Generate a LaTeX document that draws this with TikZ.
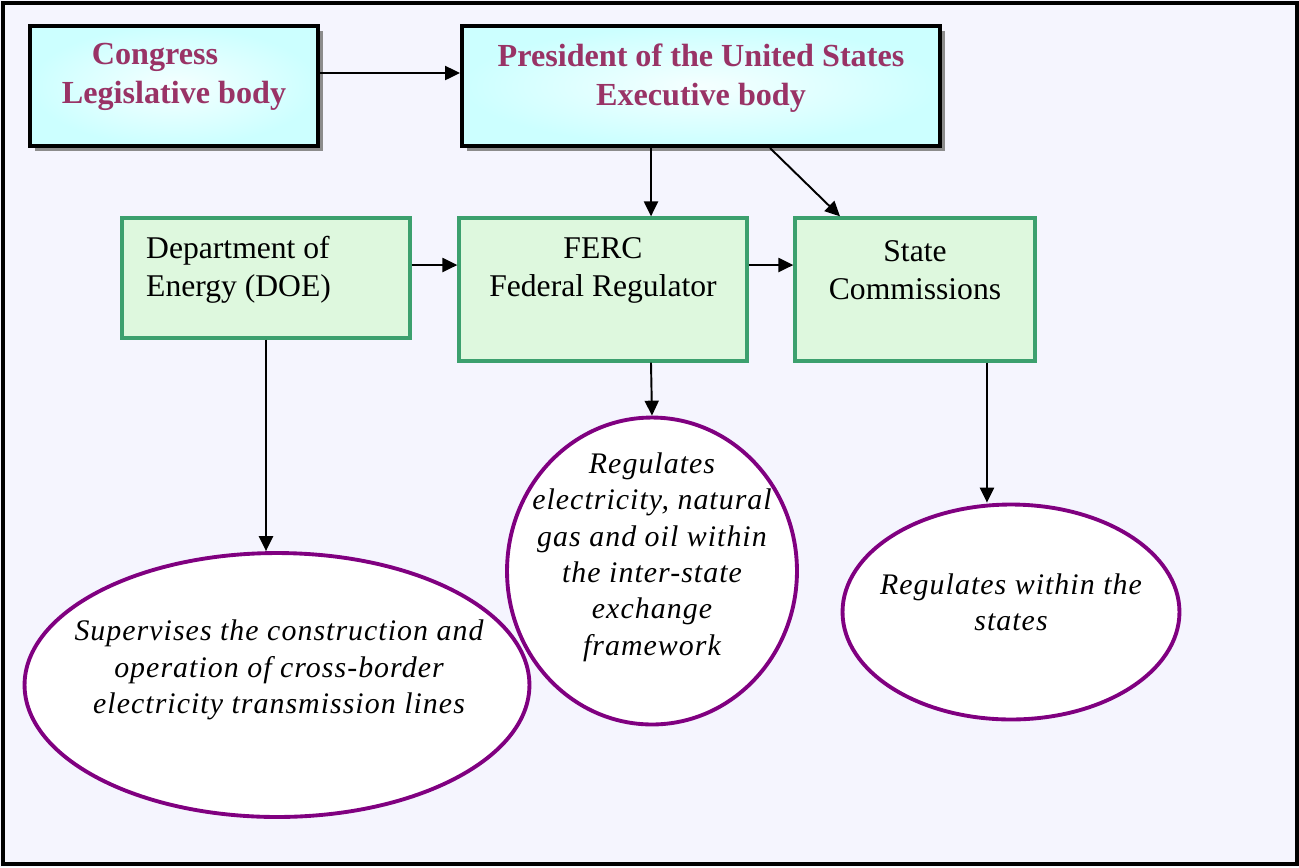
\documentclass[tikz,border=0pt]{standalone}
\usepackage{fontspec}
\setmainfont{Liberation Serif}
\newfontfamily\notefont{Liberation Serif}[LetterSpace=3.5]
\usetikzlibrary{shapes.geometric,shadows,arrows.meta}

\definecolor{titlered}{RGB}{153,51,102}
\definecolor{boxcyan}{RGB}{204,255,255}
\definecolor{boxcyanlight}{RGB}{245,255,255}
\definecolor{boxgreen}{RGB}{222,248,222}
\definecolor{linegreen}{RGB}{60,160,110}
\definecolor{notepurple}{RGB}{128,0,128}
\definecolor{paper}{RGB}{245,245,254}

\tikzset{
  topbox/.style={draw=black, line width=2.3pt, shading=radial,
    inner color=boxcyanlight, outer color=boxcyan, minimum height=2.4cm,
    drop shadow={shadow xshift=0.1cm, shadow yshift=-0.1cm, fill=black!45, opacity=1}},
  midbox/.style={draw=linegreen, line width=1.9pt, fill=boxgreen},
  note/.style={ellipse, draw=notepurple, line width=2.2pt, fill=white, inner sep=0pt},
  titletext/.style={text=titlered, font=\fontsize{18.3}{22.6}\selectfont\bfseries, align=center},
  boxtext/.style={font=\fontsize{18}{21.6}\selectfont, align=center},
  notetext/.style={font=\notefont\fontsize{17}{20.7}\selectfont\itshape, align=center},
  arr/.style={-{Triangle[length=8.5pt,width=8pt]}, line width=1.1pt}
}

\begin{document}
\begin{tikzpicture}[x=0.02cm, y=-0.02cm]
\useasboundingbox (0,0) rectangle (1299,867);
\fill[paper] (0,0) rectangle (1299,867);
\draw[line width=2.5pt] (3,3) rectangle (1297,864);

% executive and legislative
\node[topbox, minimum width=5.76cm] (congress) at (174,86) {};
\node[topbox, minimum width=9.56cm] (president) at (701,86) {};
\node[titletext] (congress-t) at (174,77) {Congress\hspace*{0.76cm}\\Legislative body};
\node[titletext] (president-t) at (701,78) {President of the United States\\Executive body};

% agencies
\node[midbox, minimum width=5.76cm, minimum height=2.4cm] (doe) at (266,278) {};
\node[midbox, minimum width=5.76cm, minimum height=2.86cm] (ferc) at (603,289.5) {};
\node[midbox, minimum width=4.8cm, minimum height=2.86cm] (state) at (915,289.5) {};
\node[boxtext, align=left, anchor=west] (doe-t) at (140,270) {Department of\\Energy (DOE)};
\node[boxtext] (ferc-t) at (603,270) {FERC\\Federal Regulator};
\node[boxtext] (state-t) at (915,270) {State\\Commissions};

% roles
\node[note, minimum width=10.1cm, minimum height=5.28cm] (doe-note) at (277,685) {};
\node[note, minimum width=5.8cm, minimum height=6.14cm] (ferc-note) at (652,571) {};
\node[note, minimum width=6.74cm, minimum height=4.3cm] (state-note) at (1011,612) {};
\node[notetext] (doe-note-t) at (279,670) {Supervises the construction and\\operation of cross-border\\electricity transmission lines};
\node[notetext] (ferc-note-t) at (652,557) {Regulates\\electricity, natural\\gas and oil within\\the inter-state\\exchange\\framework};
\node[notetext] (state-note-t) at (1011,602) {Regulates within the\\states};

% arrows
\draw[arr] ([yshift=0.26cm]congress.east) -- ([yshift=0.26cm]congress.east -| president.west);
\draw[arr] ([xshift=-1cm]president.south) -- ([xshift=-1cm]president.south |- ferc.north);
\draw[arr] ([xshift=1.38cm]president.south) -- ([xshift=-1.5cm]state.north);
\draw[arr] ([yshift=0.26cm]doe.east) -- ([yshift=0.26cm]doe.east -| ferc.west);
\draw[arr] ([yshift=0.49cm]ferc.east) -- ([yshift=0.49cm]ferc.east -| state.west);
\draw[arr] (doe.south) -- (doe.south |- doe-note.north);
\draw[arr] ([xshift=0.96cm]ferc.south) -- (ferc-note.north);
\draw[arr] ([xshift=1.44cm]state.south) -- ([xshift=1.44cm]state.south |- state-note.north);
\end{tikzpicture}
\end{document}
